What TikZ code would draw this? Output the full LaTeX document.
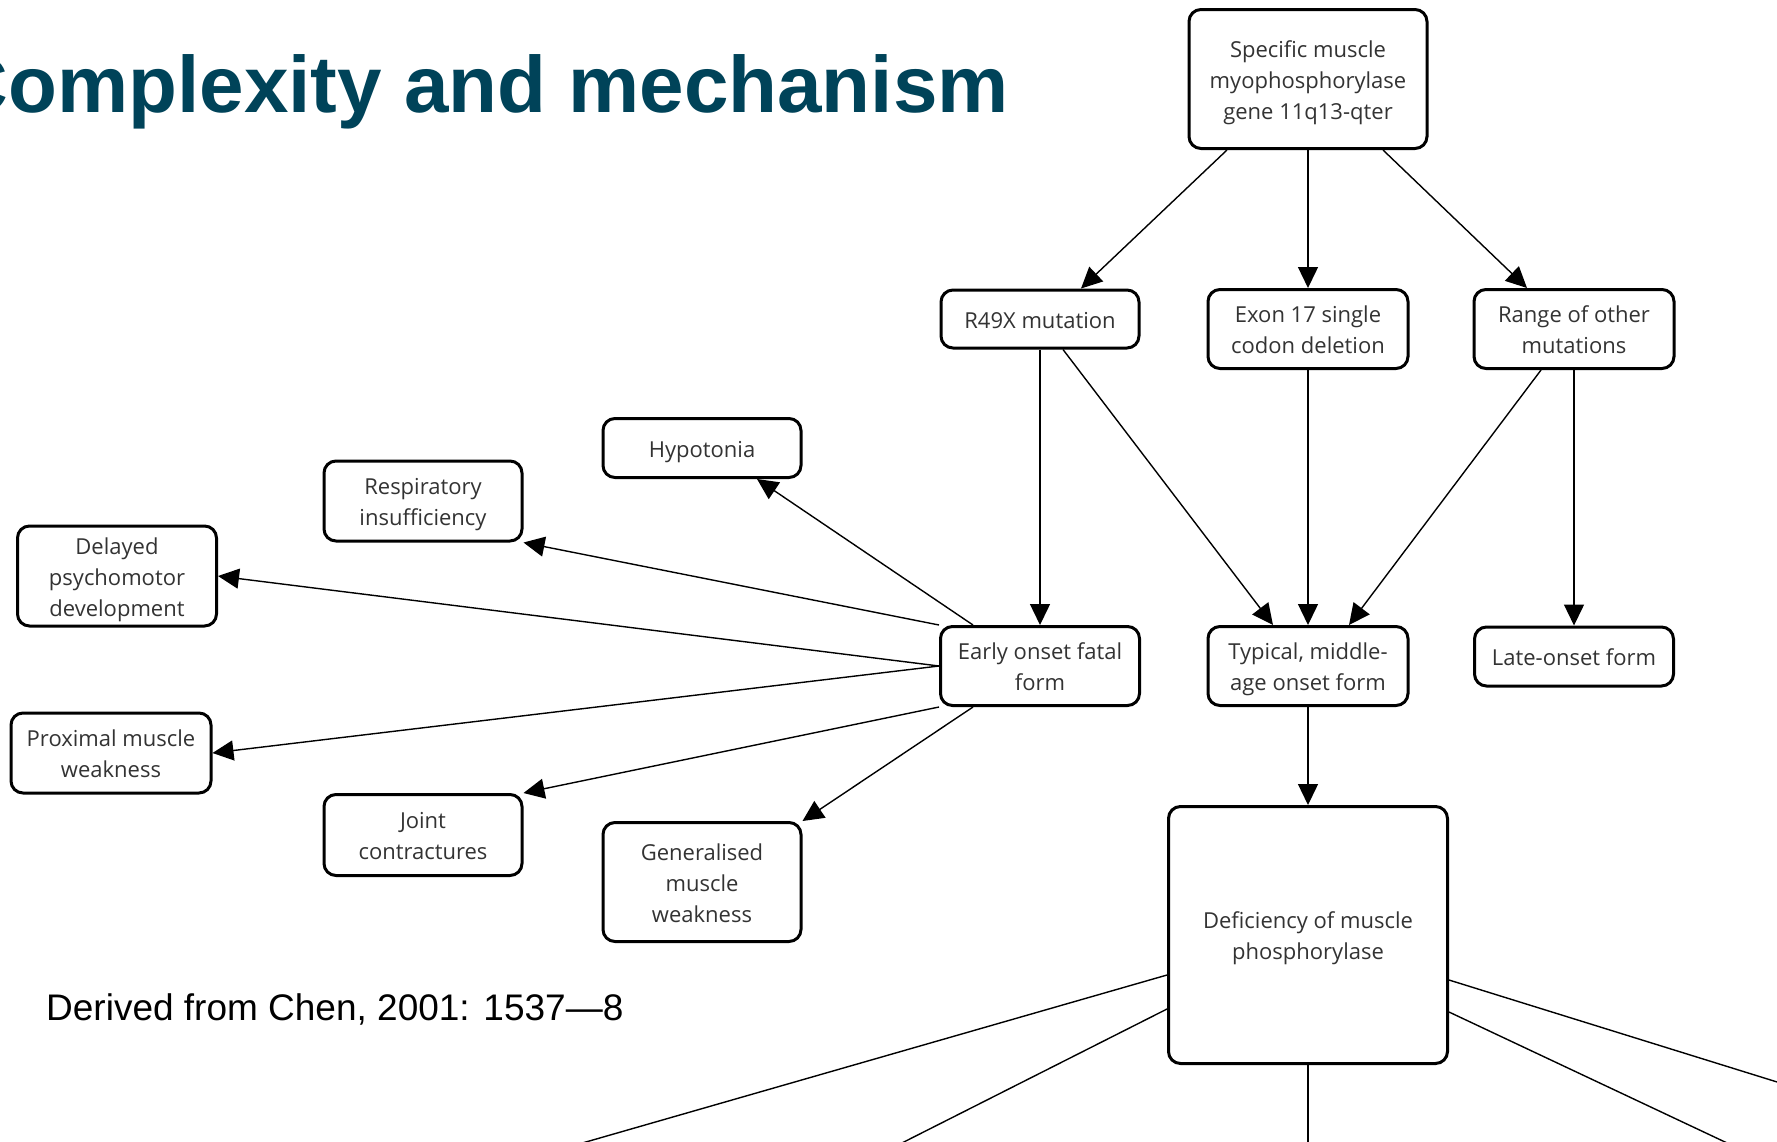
\documentclass[tikz,border=0pt]{standalone}
\usepackage{fontspec}
\setmainfont{Open Sans}
\newfontfamily\arialfont{Liberation Sans}
\usetikzlibrary{arrows.meta,calc}
\definecolor{titleteal}{RGB}{0,67,89}
% fixed struts so every label sits at the same height in its box
\newcommand{\lbl}[1]{\rule{0pt}{24.5pt}#1\rule[-6pt]{0pt}{6pt}}

\begin{document}
\begin{tikzpicture}[x=1pt,y=-1pt,
  box/.style={draw=black, line width=3pt, rounded corners=12pt, fill=white,
    align=center, inner sep=0pt, text=black!80,
    font=\fontsize{22}{31}\selectfont},
  link/.style={line width=1.4pt, -{Triangle[length=21pt,width=20pt]}},
  plain/.style={line width=1.4pt}]

\useasboundingbox (0,0) rectangle (1777,1141);
\fill[white] (0,0) rectangle (1777,1141);
\clip (0,0) rectangle (1777,1141);

% heading and source line
\node[anchor=base east, inner sep=0pt, text=titleteal,
  font=\arialfont\bfseries\fontsize{80}{80}\selectfont] (title) at (1009,112)
  {Complexity and mechanism};
\node[anchor=base west, inner sep=0pt,
  font=\arialfont\fontsize{37}{37}\selectfont] (cite) at (46,1020)
  {Derived from Chen, 2001: 1537—8};

% gene and mutations
\node[box, minimum width=238pt, minimum height=139pt] (gene) at (1308,79)
  {\lbl{Specific muscle\\myophosphorylase\\gene 11q13-qter}};
\node[box, minimum width=198pt, minimum height=58pt] (r49x) at (1040,319)
  {\lbl{R49X mutation}};
\node[box, minimum width=200pt, minimum height=79pt] (exon) at (1308,329)
  {\lbl{Exon 17 single\\codon deletion}};
\node[box, minimum width=200pt, minimum height=79pt] (range) at (1574,329)
  {\lbl{Range of other\\mutations}};

% clinical forms
\node[box, minimum width=199pt, minimum height=79pt] (early) at (1040,666)
  {\lbl{Early onset fatal\\form}};
\node[box, minimum width=200pt, minimum height=79pt] (typical) at (1308,666)
  {\lbl{Typical, middle-\\age onset form}};
\node[box, minimum width=199pt, minimum height=59pt] (late) at (1574,656.5)
  {\lbl{Late-onset form}};

% features of the early onset form
\node[box, minimum width=198pt, minimum height=59pt] (hypo) at (702,448)
  {\lbl{Hypotonia}};
\node[box, minimum width=198pt, minimum height=80pt] (resp) at (423,501)
  {\lbl{Respiratory\\insufficiency}};
\node[box, minimum width=199pt, minimum height=100pt] (delayed) at (117,576)
  {\lbl{Delayed\\psychomotor\\development}};
\node[box, minimum width=200pt, minimum height=80pt] (prox) at (111,753)
  {\lbl{Proximal muscle\\weakness}};
\node[box, minimum width=198pt, minimum height=81pt] (joint) at (423,835)
  {\lbl{Joint\\contractures}};
\node[box, minimum width=198pt, minimum height=119pt] (gen) at (702,882)
  {\lbl{Generalised\\muscle\\weakness}};

% enzyme deficiency
\node[box, minimum width=279pt, minimum height=257pt] (defic) at (1308,935)
  {\lbl{Deficiency of muscle\\phosphorylase}};

% arrows from the gene
\draw[link] ([xshift=-81pt]gene.south) -- ([xshift=41pt]r49x.north);
\draw[link] (gene.south) -- (exon.north);
\draw[link] ([xshift=75pt]gene.south) -- ([xshift=-47pt]range.north);

% arrows from the mutations
\draw[link] (r49x.south) -- (early.north);
\draw[link] ([xshift=23pt]r49x.south) -- ([xshift=-35pt]typical.north);
\draw[link] (exon.south) -- (typical.north);
\draw[link] ([xshift=-33pt]range.south) -- ([xshift=41pt]typical.north);
\draw[link] (range.south) -- (late.north);
\draw[link] (typical.south) -- (defic.north);

% arrows from the early onset form
\draw[link] ([xshift=34pt]early.north west) -- ([xshift=55pt]hypo.south);
\draw[link] (early.north west) -- (resp.south east);
\draw[link] (early.west) -- (delayed.east);
\draw[link] (early.west) -- (prox.east);
\draw[link] (early.south west) -- (joint.north east);
\draw[link] ([xshift=34pt]early.south west) -- (gen.north east);

% lines leaving the deficiency box
\coordinate (o1) at (558,1150);
\coordinate (o2) at (888,1150);
\coordinate (o3) at (1308,1150);
\coordinate (o4) at (1790,1086);
\coordinate (o5) at (1742,1150);
\draw[plain] ([yshift=-40pt]defic.west) -- (o1);
\draw[plain] ([yshift=-74pt]defic.west) -- (o2);
\draw[plain] (defic.south) -- (o3);
\draw[plain] ([yshift=-45pt]defic.east) -- (o4);
\draw[plain] ([yshift=-77pt]defic.east) -- (o5);
\end{tikzpicture}
\end{document}
